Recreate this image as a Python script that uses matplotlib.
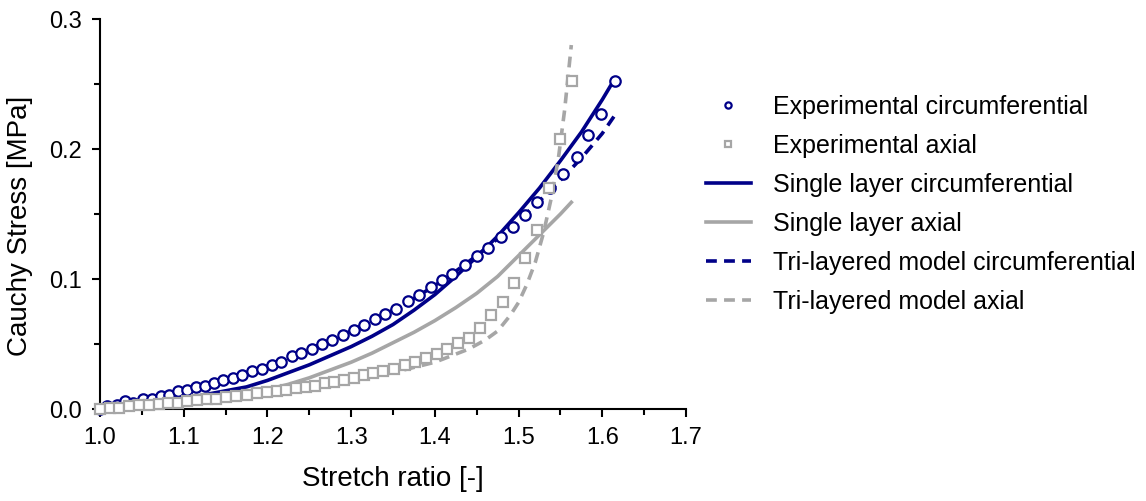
import matplotlib.pyplot as plt
from matplotlib.ticker import MultipleLocator, FormatStrFormatter

# Experimental circumferential data
exp_circ_x = [1.000, 1.008, 1.020, 1.030, 1.039, 1.051, 1.062, 1.073, 1.082, 1.093,
              1.104, 1.115, 1.125, 1.136, 1.147, 1.159, 1.170, 1.182, 1.193, 1.205,
              1.216, 1.229, 1.240, 1.253, 1.265, 1.277, 1.290, 1.303, 1.315, 1.328,
              1.340, 1.354, 1.368, 1.381, 1.395, 1.408, 1.421, 1.436, 1.450, 1.464,
              1.479, 1.493, 1.508, 1.522, 1.538, 1.553, 1.570, 1.583, 1.598, 1.615]
exp_circ_y = [0.000, 0.002, 0.003, 0.006, 0.005, 0.008, 0.008, 0.010, 0.011, 0.014,
              0.015, 0.017, 0.018, 0.020, 0.022, 0.024, 0.026, 0.029, 0.031, 0.034,
              0.036, 0.041, 0.043, 0.046, 0.050, 0.053, 0.057, 0.061, 0.065, 0.069,
              0.073, 0.077, 0.083, 0.088, 0.094, 0.099, 0.104, 0.111, 0.118, 0.124,
              0.132, 0.140, 0.149, 0.159, 0.170, 0.181, 0.194, 0.211, 0.227, 0.252]

# Experimental axial data
exp_ax_x = [1.000, 1.012, 1.023, 1.035, 1.046, 1.058, 1.070, 1.081, 1.093, 1.104,
            1.116, 1.128, 1.139, 1.151, 1.163, 1.175, 1.187, 1.199, 1.211, 1.222,
            1.234, 1.246, 1.257, 1.269, 1.280, 1.292, 1.303, 1.315, 1.326, 1.338,
            1.351, 1.364, 1.376, 1.389, 1.402, 1.415, 1.428, 1.441, 1.454, 1.467,
            1.481, 1.494, 1.508, 1.522, 1.536, 1.550, 1.564]
exp_ax_y = [0.000, 0.001, 0.001, 0.002, 0.003, 0.003, 0.004, 0.005, 0.005, 0.006,
            0.007, 0.008, 0.008, 0.009, 0.010, 0.011, 0.012, 0.013, 0.014, 0.015,
            0.016, 0.017, 0.018, 0.020, 0.021, 0.022, 0.024, 0.026, 0.028, 0.029,
            0.031, 0.034, 0.036, 0.039, 0.042, 0.046, 0.051, 0.055, 0.062, 0.072,
            0.082, 0.097, 0.116, 0.138, 0.170, 0.208, 0.252]

# Single layer model
single_circ_x = [1.000, 1.025, 1.050, 1.075, 1.100, 1.125, 1.150, 1.175, 1.200, 1.225,
                 1.250, 1.275, 1.300, 1.325, 1.350, 1.375, 1.400, 1.425, 1.450, 1.475,
                 1.500, 1.525, 1.550, 1.575, 1.600, 1.613]
single_circ_y = [0.000, 0.002, 0.004, 0.006, 0.008, 0.011, 0.014, 0.017, 0.022, 0.028,
                 0.034, 0.041, 0.048, 0.056, 0.065, 0.076, 0.088, 0.102, 0.117, 0.133,
                 0.151, 0.170, 0.191, 0.213, 0.238, 0.252]

single_ax_x = [1.000, 1.025, 1.050, 1.075, 1.100, 1.125, 1.150, 1.175, 1.200, 1.225,
               1.250, 1.275, 1.300, 1.325, 1.350, 1.375, 1.400, 1.425, 1.450, 1.475,
               1.500, 1.525, 1.550, 1.563]
single_ax_y = [0.000, 0.001, 0.002, 0.003, 0.005, 0.007, 0.009, 0.012, 0.015, 0.019,
               0.024, 0.030, 0.036, 0.043, 0.051, 0.059, 0.068, 0.078, 0.089, 0.102,
               0.118, 0.134, 0.150, 0.159]

# Tri-layered model
tri_circ_x = [1.000, 1.025, 1.050, 1.075, 1.100, 1.125, 1.150, 1.175, 1.200, 1.225,
              1.250, 1.275, 1.300, 1.325, 1.350, 1.375, 1.400, 1.425, 1.450, 1.475,
              1.500, 1.525, 1.550, 1.575, 1.600, 1.615]
tri_circ_y = [0.000, 0.004, 0.007, 0.010, 0.014, 0.018, 0.022, 0.027, 0.033, 0.039,
              0.046, 0.053, 0.060, 0.068, 0.076, 0.085, 0.095, 0.106, 0.118, 0.131,
              0.145, 0.160, 0.176, 0.193, 0.212, 0.226]

tri_ax_x = [1.000, 1.050, 1.100, 1.150, 1.200, 1.250, 1.300, 1.325, 1.350, 1.375,
            1.400, 1.420, 1.440, 1.460, 1.475, 1.490, 1.500, 1.510, 1.520, 1.530,
            1.540, 1.548, 1.555, 1.563]
tri_ax_y = [0.000, 0.003, 0.006, 0.009, 0.013, 0.017, 0.022, 0.025, 0.028, 0.032,
            0.036, 0.041, 0.046, 0.053, 0.060, 0.072, 0.082, 0.096, 0.113, 0.136,
            0.165, 0.195, 0.230, 0.280]

navy = '#000088'
grey = '#a6a6a6'

plt.rcParams['font.family'] = ['Liberation Sans', 'DejaVu Sans']

fig = plt.figure(figsize=(11.46, 5.01), dpi=100)
ax = fig.add_axes([0.0873, 0.1836, 0.5113, 0.7784])

ax.plot(single_circ_x, single_circ_y, color=navy, lw=2.6, zorder=2,
        solid_joinstyle='round', label='Single layer circumferential')
ax.plot(single_ax_x, single_ax_y, color=grey, lw=2.6, zorder=2,
        solid_joinstyle='round', label='Single layer axial')
ax.plot(tri_circ_x, tri_circ_y, color=navy, lw=2.6, dashes=(3, 2), zorder=2,
        label='Tri-layered model circumferential')
ax.plot(tri_ax_x, tri_ax_y, color=grey, lw=2.6, dashes=(3, 2), zorder=2,
        label='Tri-layered model axial')
ax.plot(exp_circ_x, exp_circ_y, 'o', ms=7.5, mfc='white', mec=navy, mew=1.6,
        zorder=3, clip_on=False, label='Experimental circumferential')
ax.plot(exp_ax_x, exp_ax_y, 's', ms=7, mfc='white', mec=grey, mew=1.6,
        zorder=3, clip_on=False, label='Experimental axial')

ax.set_xlim(1.0, 1.7)
ax.set_ylim(0.0, 0.3)
ax.xaxis.set_major_locator(MultipleLocator(0.1))
ax.xaxis.set_minor_locator(MultipleLocator(0.05))
ax.yaxis.set_major_locator(MultipleLocator(0.1))
ax.yaxis.set_minor_locator(MultipleLocator(0.05))
ax.xaxis.set_major_formatter(FormatStrFormatter('%.1f'))
ax.yaxis.set_major_formatter(FormatStrFormatter('%.1f'))
for s in ['top', 'right']:
    ax.spines[s].set_visible(False)
for s in ['left', 'bottom']:
    ax.spines[s].set_linewidth(1.5)
ax.tick_params(which='major', direction='out', length=6, width=1.5, labelsize=17, pad=7)
ax.tick_params(which='minor', direction='out', length=4, width=1.5)

ax.set_xlabel('Stretch ratio [-]', fontsize=20, labelpad=12)
ax.set_ylabel('Cauchy Stress [MPa]', fontsize=20)
ax.yaxis.set_label_coords(-0.115, 0.47)

h, l = ax.get_legend_handles_labels()
order = [4, 5, 0, 1, 2, 3]
fig.legend([h[i] for i in order], [l[i] for i in order],
           loc='upper left', bbox_to_anchor=(0.596, 0.855), frameon=False,
           fontsize=18, handlelength=1.8, handletextpad=0.9, labelspacing=0.6,
           markerscale=0.6)

fig.savefig('out.png', dpi=100)
